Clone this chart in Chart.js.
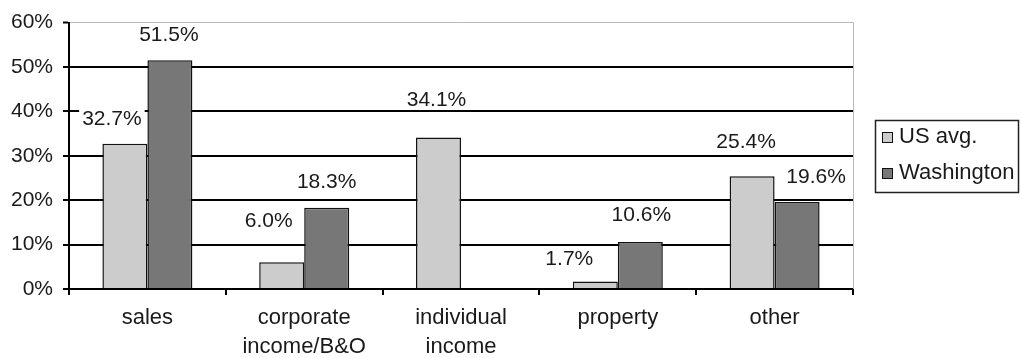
<!DOCTYPE html>
<html>
<head>
<meta charset="utf-8">
<script src="https://cdn.jsdelivr.net/npm/chart.js@4/dist/chart.umd.min.js"></script>
<style>
  body { margin: 0; background: #fff; }
  #wrap { width: 1022px; height: 358px; }
</style>
</head>
<body>
<div id="wrap"><canvas id="taxChart"></canvas></div>
<script>
// categories and values
const categories = ['sales', ['corporate', 'income/B&O'], ['individual', 'income'], 'property', 'other'];
const seriesNames = ['US avg.', 'Washington'];
const usAvg = [32.7, 6.0, 34.1, 1.7, 25.4];
const washington = [51.5, 18.3, null, 10.6, 19.6];
const yTicks = [0, 10, 20, 30, 40, 50, 60];

const fontFamily = '"Liberation Sans", Arial, sans-serif';
const barColors = ['#cccccc', '#777777'];

// label nudges (dx, lift above bar top) to copy the spreadsheet placement
const labelNudge = [
    [[-13, 25], [-13, 41], [-2, 37], [-26, 22], [-6, 34]],
    [[-1, 25], [0, 26], [0, 0], [1, 27], [19, 25]]
];

const valueLabels = {
    id: 'valueLabels',
    afterDatasetsDraw: function(chart) {
        const ctx = chart.ctx;
        ctx.save();
        ctx.font = '21px ' + fontFamily;
        ctx.textAlign = 'center';
        ctx.textBaseline = 'middle';
        chart.data.datasets.forEach(function(ds, di) {
            const meta = chart.getDatasetMeta(di);
            meta.data.forEach(function(bar, i) {
                const v = ds.data[i];
                if (v === null || v === undefined) return;
                const text = v.toFixed(1) + '%';
                const x = bar.x + labelNudge[di][i][0];
                const y = bar.y - labelNudge[di][i][1];
                const w = ctx.measureText(text).width;
                ctx.fillStyle = '#fff';
                ctx.fillRect(x - w / 2 - 3, y - 9, w + 6, 18);
                ctx.fillStyle = '#1a1a1a';
                ctx.fillText(text, x, y);
            });
        });
        ctx.restore();
    }
};

const frameAndLegend = {
    id: 'frameAndLegend',
    beforeDatasetsDraw: function(chart) {
        const a = chart.chartArea;
        const ctx = chart.ctx;
        ctx.save();
        ctx.strokeStyle = '#b8b8b8';
        ctx.lineWidth = 1;
        ctx.beginPath();
        ctx.moveTo(a.right + 0.5, a.top);
        ctx.lineTo(a.right + 0.5, a.bottom);
        ctx.stroke();
        ctx.restore();
    },
    afterDraw: function(chart) {
        const ctx = chart.ctx;
        ctx.save();
        ctx.strokeStyle = '#222';
        ctx.lineWidth = 1.5;
        ctx.strokeRect(875.5, 120.5, 143, 72);
        ctx.font = '22px ' + fontFamily;
        ctx.textBaseline = 'middle';
        ctx.textAlign = 'left';
        chart.data.datasets.forEach(function(ds, i) {
            const cy = 137 + i * 36;
            ctx.fillStyle = ds.backgroundColor;
            ctx.fillRect(882, cy - 5, 11, 11);
            ctx.strokeStyle = '#111';
            ctx.lineWidth = 1;
            ctx.strokeRect(882.5, cy - 4.5, 10, 10);
            ctx.fillStyle = '#1a1a1a';
            ctx.fillText(ds.label, 899, cy);
        });
        ctx.restore();
    }
};

new Chart(document.getElementById('taxChart'), {
    type: 'bar',
    data: {
        labels: categories,
        datasets: [
            {
                label: seriesNames[0],
                data: usAvg,
                backgroundColor: barColors[0],
                borderColor: '#111',
                borderWidth: 1.5
            },
            {
                label: seriesNames[1],
                data: washington,
                backgroundColor: barColors[1],
                borderColor: '#111',
                borderWidth: 1.5
            }
        ]
    },
    options: {
        responsive: true,
        maintainAspectRatio: false,
        animation: false,
        layout: {
            padding: { top: 20, right: 169, bottom: 0, left: 0 }
        },
        datasets: {
            bar: {
                categoryPercentage: 0.574,
                barPercentage: 1.0
            }
        },
        scales: {
            x: {
                afterFit: function(scale) { scale.height = 69; },
                grid: {
                    display: true,
                    offset: true,
                    drawOnChartArea: false,
                    drawTicks: true,
                    tickLength: 6,
                    color: '#000',
                    lineWidth: 2
                },
                border: { display: true, color: '#000', width: 2 },
                ticks: {
                    color: '#1a1a1a',
                    padding: 9,
                    maxRotation: 0,
                    autoSkip: false,
                    font: { family: fontFamily, size: 22, lineHeight: 1.3 }
                }
            },
            y: {
                min: 0,
                max: 60,
                afterFit: function(scale) { scale.width = 69; },
                afterBuildTicks: function(scale) {
                    scale.ticks = yTicks.map(function(v) { return { value: v }; });
                },
                grid: {
                    color: function(c) {
                        return c.tick && c.tick.value === 60 ? '#b8b8b8' : '#000';
                    },
                    lineWidth: function(c) {
                        return c.tick && c.tick.value === 60 ? 1 : 2;
                    },
                    tickColor: '#000',
                    tickLength: 6,
                    tickWidth: 2
                },
                border: { display: true, color: '#000', width: 2 },
                ticks: {
                    color: '#1a1a1a',
                    padding: 10,
                    font: { family: fontFamily, size: 21 },
                    callback: function(v) { return v + '%'; }
                }
            }
        },
        plugins: {
            legend: { display: false },
            tooltip: { enabled: false }
        }
    },
    plugins: [valueLabels, frameAndLegend]
});
</script>
</body>
</html>
